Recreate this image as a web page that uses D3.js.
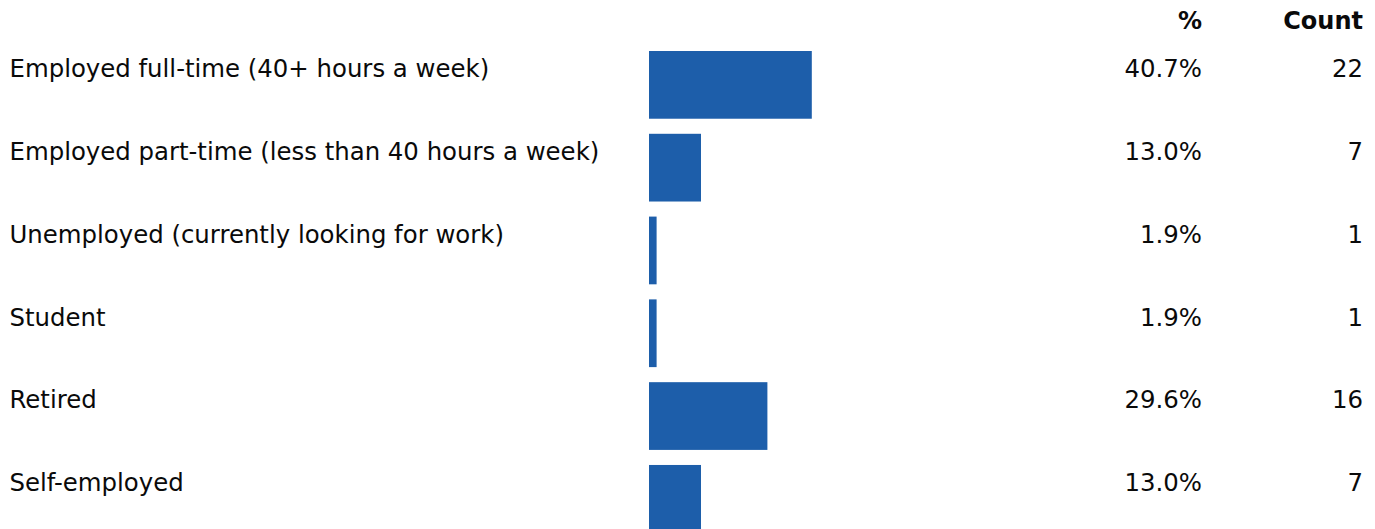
<!DOCTYPE html>
<html>
<head>
<meta charset="utf-8">
<script src="https://cdn.jsdelivr.net/npm/d3@7"></script>
<style>
  html, body { margin: 0; padding: 0; background: #fff; }
  svg { display: block; }
  text { font-family: "DejaVu Sans", sans-serif; fill: #0a0a0a; }
</style>
</head>
<body>
<svg id="chart" width="1375" height="529"></svg>
<script>
// Employment status responses
const categories = [
  "Employed full-time (40+ hours a week)",
  "Employed part-time (less than 40 hours a week)",
  "Unemployed (currently looking for work)",
  "Student",
  "Retired",
  "Self-employed"
];
const percents = [40.7, 13.0, 1.9, 1.9, 29.6, 13.0];
const counts = [22, 7, 1, 1, 16, 7];
const headers = ["%", "Count"];

const rows = categories.map((c, i) => ({ label: c, pct: percents[i], count: counts[i] }));

const svg = d3.select("#chart");

const x = d3.scaleLinear().domain([0, 100]).range([649, 1049]);
const y = d3.scaleBand()
  .domain(categories)
  .range([51, 532.7])
  .paddingInner(0.182)
  .paddingOuter(0);

const pctRight = 1202;
const countRight = 1363;
const labelLeft = 9.5;
const fontSize = 24.4;
const headerSize = 24;
const baselineOffset = 26.3;

// column headers
headers.forEach((h, i) => {
  svg.append("text")
    .attr("x", i === 0 ? pctRight : countRight)
    .attr("y", 28.5)
    .attr("text-anchor", "end")
    .style("font-size", headerSize + "px")
    .style("font-weight", "bold")
    .text(h);
});

const row = svg.selectAll("g.row").data(rows).enter().append("g").attr("class", "row");

row.append("rect")
  .attr("x", x(0))
  .attr("y", d => y(d.label))
  .attr("width", d => x(d.pct) - x(0))
  .attr("height", y.bandwidth())
  .attr("fill", "#1d5eaa");

row.append("text")
  .attr("x", labelLeft)
  .attr("y", d => y(d.label) + baselineOffset)
  .style("font-size", fontSize + "px")
  .text(d => d.label);

row.append("text")
  .attr("x", pctRight)
  .attr("y", d => y(d.label) + baselineOffset)
  .attr("text-anchor", "end")
  .style("font-size", fontSize + "px")
  .text(d => d.pct.toFixed(1) + "%");

row.append("text")
  .attr("x", countRight)
  .attr("y", d => y(d.label) + baselineOffset)
  .attr("text-anchor", "end")
  .style("font-size", fontSize + "px")
  .text(d => d.count);
</script>
</body>
</html>
